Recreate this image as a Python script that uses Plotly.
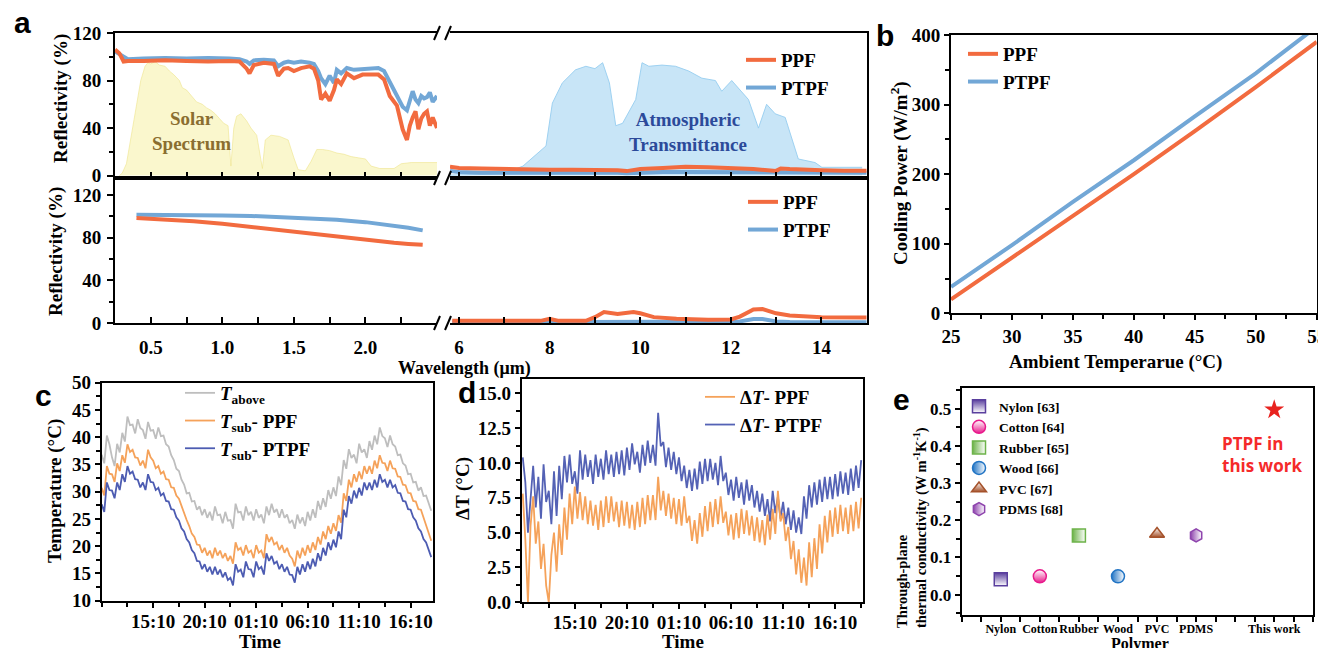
import plotly.graph_objects as go

W, H = 1326, 648
OFF = 8  # the page body adds this offset, compensate for it
SERIF = "Liberation Serif"
SANS = "Liberation Sans"

# ---------------- data: panel a ----------------
WL_VIS = [0.25, 0.28, 0.31, 0.34, 0.45, 0.6, 0.75, 0.9, 1.05, 1.12, 1.17, 1.19, 1.22, 1.29, 1.36, 1.39,
          1.43, 1.46, 1.50, 1.55, 1.61, 1.64, 1.67, 1.69, 1.72, 1.75, 1.78, 1.80, 1.83, 1.87, 1.92, 1.98,
          2.04, 2.09, 2.13, 2.17, 2.22, 2.26, 2.29, 2.31, 2.33, 2.35, 2.37, 2.39, 2.41, 2.43, 2.45, 2.47, 2.50]
PTPF_VIS_TOP = [104.5, 102, 100, 98, 98.5, 99, 98.5, 99, 98.5, 98, 96, 94, 97, 97.5, 97, 92,
                95, 96, 95, 96, 95, 94, 88, 82, 77, 84, 78, 89, 86, 90.5, 89, 89.5,
                89.5, 90.5, 88, 79, 67, 58, 55, 63, 71, 64, 61, 67, 65, 66, 70, 62, 67]
PPF_VIS_TOP = [106, 103, 96, 96.5, 96.5, 97, 96.5, 96, 96.5, 96, 90, 86, 93, 95, 94, 84,
               90, 90.5, 88, 90.5, 92, 90, 80, 64, 69, 63, 72, 81, 77, 86, 82, 85,
               85, 85, 81, 67, 59, 39, 30, 42, 49, 54, 39, 48, 52, 54, 42, 49, 40]

WL_SOLAR = [0.28, 0.30, 0.33, 0.36, 0.40, 0.43, 0.46, 0.48, 0.50, 0.53, 0.56, 0.60, 0.63, 0.66, 0.70,
            0.72, 0.75, 0.78, 0.82, 0.86, 0.89, 0.92, 0.95, 0.98, 1.01, 1.04, 1.06, 1.08, 1.10, 1.13,
            1.17, 1.20, 1.24, 1.26, 1.28, 1.30, 1.34, 1.40, 1.46, 1.50, 1.53, 1.58, 1.62, 1.66, 1.70,
            1.75, 1.80, 1.85, 1.90, 1.95, 2.00, 2.04, 2.10, 2.20, 2.25, 2.32, 2.40, 2.50]
SOLAR = [0, 2, 10, 30, 60, 80, 92, 95, 94, 96, 93, 92, 88, 85, 80,
         74, 72, 68, 62, 60, 57, 55, 52, 48, 44, 42, 8, 40, 50, 52,
         46, 40, 34, 20, 6, 30, 34, 33, 30, 15, 5, 4, 12, 22, 22,
         21, 19, 18, 16, 15, 14, 8, 6, 6, 10, 11, 11, 11]

WL_IR = [5.8, 6.0, 6.5, 7.0, 7.5, 8.0, 8.5, 9.0, 9.5, 9.7, 10.0, 10.5, 11.0, 11.5, 12.0, 12.5,
         13.0, 13.1, 13.3, 13.5, 14.0, 14.5, 15.0]
PPF_IR_TOP = [7.5, 6.5, 6, 5.5, 5.5, 5, 5, 5, 4.5, 3.8, 5.5, 6.5, 7.5, 7, 6.5, 5.5,
              4, 6, 5.5, 5, 4.5, 4, 4]
PTPF_IR_TOP = [4, 3, 2.5, 2.5, 2.5, 2.5, 2.5, 3, 2.5, 2, 2.5, 3, 3, 3, 3, 3,
               2.5, 3, 3, 2.5, 2.5, 2.5, 2.5]

WL_ATM = [5.8, 6.5, 7.0, 7.41, 7.92, 8.06, 8.28, 8.57, 8.80, 9.0, 9.17, 9.32, 9.46, 9.61, 9.90, 10.04,
          10.19, 10.48, 10.78, 11.07, 11.36, 11.66, 11.80, 12.02, 12.39, 12.61, 12.79, 12.98, 13.20,
          13.49, 13.86, 14.01, 14.9]
ATM = [0.5, 1, 2, 8, 25, 61, 78, 89, 92, 90, 95, 78, 42, 44, 64, 95,
       92, 93, 92, 88, 82, 80, 71, 80, 64, 40, 60, 52, 49,
       14, 11, 7, 7]

WL_VIS_B = [0.4, 0.6, 0.8, 1.0, 1.2, 1.4, 1.6, 1.8, 2.0, 2.2, 2.3, 2.4]
PTPF_VIS_B = [101.5, 101.5, 101.3, 100.9, 100.4, 99.5, 98.5, 96.9, 94.6, 91.6, 89.4, 86.9]
PPF_VIS_B = [98.5, 97.3, 95.5, 93.0, 90.0, 86.4, 83.7, 81.1, 78.1, 75.3, 74.2, 73.3]

WL_IR_B = [5.85, 7.0, 7.8, 8.0, 8.2, 8.8, 9.0, 9.2, 9.5, 9.85, 10.0, 10.3, 10.8, 11.5, 12.0, 12.2,
           12.5, 12.7, 13.0, 13.3, 14.0, 15.0]
PPF_IR_B = [2.1, 2.1, 2.0, 4.0, 2.0, 2.0, 5.5, 10.3, 8.5, 10.3, 9.1, 5.5, 4.0, 3.0, 3.3, 6.0,
            12.6, 13.1, 9.1, 7.1, 5.5, 5.1]
PTPF_IR_B = [0.6, 0.6, 0.6, 0.8, 0.6, 0.6, 0.8, 1.0, 1.0, 1.0, 0.9, 0.8, 0.7, 0.6, 0.7, 1.5,
             3.8, 3.8, 1.5, 1.0, 0.8, 0.7]

WL_TICKS_VIS = [0.5, 1.0, 1.5, 2.0]

# ---------------- data: panel b ----------------
T_AMB = [25, 30, 35, 40, 45, 50, 55]
COOL_PPF = [20, 80, 140, 200, 262, 325, 390]
COOL_PTPF = [38, 98, 160, 220, 283, 345, 412]

# ---------------- data: panel c (sampled every 0.25 h from 10:10) ----------------
HOURS_C = [i / 4 for i in range(129)]
T_ABOVE = [36.8, 35.2, 40.3, 38.7, 36.3, 34.7, 38.8, 37.2, 40.8, 39.2, 43.8, 42.2, 42.3, 40.7, 43.3, 41.7,
           41.3, 39.7, 42.8, 41.2, 41.3, 39.7, 41.8, 40.2, 40.3, 38.7, 38.3, 36.7, 35.8, 34.2, 33.8, 32.2,
           31.3, 29.7, 29.8, 28.2, 28.3, 26.7, 27.3, 25.7, 26.8, 25.2, 26.3, 24.7, 27.3, 25.7, 25.8, 24.2,
           26.3, 24.7, 24.8, 23.2, 27.8, 26.2, 26.3, 24.7, 27.3, 25.7, 26.3, 24.7, 26.8, 25.2, 25.8, 24.2,
           27.3, 25.7, 27.8, 26.2, 26.8, 25.2, 26.8, 25.2, 25.8, 24.2, 24.8, 23.2, 25.8, 24.2, 25.3, 23.7,
           26.3, 24.7, 26.8, 25.2, 28.3, 26.7, 28.8, 27.2, 30.3, 28.7, 30.8, 29.2, 32.8, 31.2, 35.8, 34.2,
           37.8, 36.2, 36.8, 35.2, 38.8, 37.2, 37.8, 36.2, 39.3, 37.7, 40.3, 38.7, 41.8, 40.2, 39.8, 38.2,
           40.3, 38.7, 38.3, 36.7, 36.8, 35.2, 34.8, 33.2, 33.3, 31.7, 31.8, 30.2, 30.8, 29.2, 29.3, 27.7,
           26.5]
T_SUB_PPF = [30.7, 29.3, 34.7, 33.3, 33.2, 31.8, 35.2, 33.8, 36.7, 35.3, 38.7, 37.3, 37.7, 36.3, 36.2, 34.8,
             35.7, 34.3, 37.7, 36.3, 35.7, 34.3, 34.7, 33.3, 33.7, 32.3, 32.2, 30.8, 30.7, 29.3, 28.7, 27.3,
             26.2, 24.8, 23.7, 22.3, 21.7, 20.3, 20.2, 18.8, 19.7, 18.3, 19.2, 17.8, 19.7, 18.3, 19.2, 17.8,
             18.7, 17.3, 18.2, 16.8, 20.7, 19.3, 19.7, 18.3, 20.2, 18.8, 19.2, 17.8, 20.2, 18.8, 19.2, 17.8,
             22.2, 20.8, 21.7, 20.3, 20.7, 19.3, 20.2, 18.8, 19.7, 18.3, 17.7, 16.3, 19.2, 17.8, 19.7, 18.3,
             20.2, 18.8, 20.7, 19.3, 21.7, 20.3, 22.7, 21.3, 23.7, 22.3, 24.2, 22.8, 25.7, 24.3, 29.7, 28.3,
             32.2, 30.8, 33.2, 31.8, 33.7, 32.3, 34.7, 33.3, 34.7, 33.3, 35.7, 34.3, 36.7, 35.3, 35.2, 33.8,
             35.7, 34.3, 34.2, 32.8, 32.7, 31.3, 31.2, 29.8, 29.7, 28.3, 28.2, 26.8, 26.7, 25.3, 24.2, 22.8,
             21.0]
T_SUB_PTPF = [27.7, 26.3, 31.7, 30.3, 30.2, 28.8, 31.7, 30.3, 33.2, 31.8, 34.7, 33.3, 33.7, 32.3, 32.2, 30.8,
              31.7, 30.3, 33.2, 31.8, 31.7, 30.3, 30.7, 29.3, 29.7, 28.3, 28.2, 26.8, 26.7, 25.3, 24.7, 23.3,
              22.7, 21.3, 20.7, 19.3, 18.7, 17.3, 17.2, 15.8, 16.7, 15.3, 16.2, 14.8, 16.2, 14.8, 15.7, 14.3,
              15.2, 13.8, 14.2, 12.8, 16.7, 15.3, 15.7, 14.3, 17.2, 15.8, 15.7, 14.3, 17.2, 15.8, 16.2, 14.8,
              18.7, 17.3, 18.2, 16.8, 17.2, 15.8, 16.7, 15.3, 16.2, 14.8, 14.7, 13.3, 16.2, 14.8, 16.7, 15.3,
              17.2, 15.8, 17.7, 16.3, 18.7, 17.3, 19.7, 18.3, 20.7, 19.3, 21.2, 19.8, 22.7, 21.3, 26.7, 25.3,
              29.2, 27.8, 30.2, 28.8, 30.7, 29.3, 31.7, 30.3, 31.7, 30.3, 32.2, 30.8, 33.2, 31.8, 32.2, 30.8,
              32.2, 30.8, 31.2, 29.8, 29.7, 28.3, 28.2, 26.8, 26.7, 25.3, 24.7, 23.3, 22.7, 21.3, 20.7, 19.3,
              18.0]

# ---------------- data: panel d (sampled every 0.25 h from 10:10) ----------------
HOURS_D = [i / 4 for i in range(131)]
DT_PPF = [7.8, 4.5, 0.0, 5.5, 7.6, 4.2, 5.8, 2.4, 4.2, 1.2, 0.0, 3.4, 5.0, 2.2, 5.6, 3.4,
          6.8, 4.5, 7.8, 5.6, 8.3, 6.0, 7.9, 5.9, 7.6, 5.6, 7.3, 5.5, 7.0, 5.2, 7.3, 5.4,
          7.6, 5.7, 7.6, 5.8, 7.2, 5.4, 7.3, 5.5, 7.2, 5.3, 7.0, 5.2, 7.2, 5.4, 7.5, 5.6,
          7.7, 5.9, 7.7, 5.9, 9.0, 6.6, 8.0, 6.2, 7.8, 6.0, 7.5, 5.6, 7.4, 5.5, 7.6, 5.7,
          6.2, 4.4, 5.9, 4.2, 6.4, 4.7, 6.9, 5.1, 7.2, 5.4, 7.4, 5.6, 7.6, 5.7, 6.5, 4.8,
          6.3, 4.5, 6.4, 4.6, 6.7, 4.9, 6.6, 4.8, 6.2, 4.4, 6.1, 4.3, 5.9, 4.1, 6.3, 4.5,
          6.7, 4.9, 8.0, 5.8, 6.4, 4.4, 5.4, 3.1, 4.4, 2.0, 3.8, 1.4, 3.2, 1.2, 4.3, 1.8,
          4.6, 2.4, 5.6, 3.5, 6.2, 4.3, 6.6, 4.7, 6.8, 4.9, 7.0, 5.1, 6.8, 4.9, 7.0, 5.1,
          7.2, 5.3, 7.5]
DT_PTPF = [10.4, 8.6, 5.0, 7.5, 9.8, 6.8, 9.0, 6.0, 9.9, 7.2, 8.0, 5.6, 9.4, 6.2, 9.8, 7.4,
           10.5, 8.6, 10.6, 8.5, 9.4, 7.8, 10.9, 8.8, 10.6, 9.0, 10.2, 8.5, 10.6, 9.0, 10.3, 8.8,
           10.9, 9.2, 10.6, 9.0, 10.8, 9.2, 10.9, 9.1, 11.1, 9.5, 11.4, 9.9, 10.8, 9.3, 11.3, 9.8,
           11.6, 10.0, 11.3, 9.8, 13.6, 11.2, 11.5, 9.7, 11.1, 9.5, 10.8, 9.2, 10.4, 8.7, 9.8, 8.2,
           9.5, 8.0, 9.6, 8.1, 10.1, 8.5, 10.3, 8.7, 10.3, 8.8, 10.0, 8.4, 10.5, 8.7, 9.3, 7.7,
           8.8, 7.3, 9.0, 7.5, 8.6, 7.0, 8.8, 7.3, 8.4, 6.8, 8.0, 6.5, 7.8, 6.2, 7.4, 5.8,
           8.0, 6.4, 7.6, 6.0, 7.2, 5.6, 6.8, 5.2, 6.6, 5.0, 6.1, 4.9, 7.6, 6.0, 8.4, 6.8,
           8.6, 7.0, 8.8, 7.2, 9.0, 7.4, 9.0, 7.4, 9.2, 7.6, 9.4, 7.8, 9.3, 7.7, 9.6, 8.0,
           9.8, 8.2, 10.2]

TIME_TICKS = [5, 10, 15, 20, 25, 30]
TIME_LABELS = ["15:10", "20:10", "01:10", "06:10", "11:10", "16:10"]

# ---------------- data: panel e ----------------
POLYMERS = ["Nylon", "Cotton", "Rubber", "Wood", "PVC", "PDMS", "This work"]
POLY_POS = [1, 2, 3, 4, 5, 6, 8]
REFS = ["[63]", "[64]", "[65]", "[66]", "[67]", "[68]"]
CONDUCTIVITY = [0.041, 0.049, 0.159, 0.049, 0.163, 0.159, 0.497]

# ---------------- styling ----------------
C_PPF = "#F26B3F"
C_PTPF = "#72A7D6"
C_GRAY = "#BEBEBE"
C_ORANGE = "#F5A25A"
C_BLUE = "#4D5CB2"


def fx(p):
    return (p - OFF) / W


def fy(p):
    return 1 - (p - OFF) / H


fig = go.Figure()

# panel a, top
fig.add_trace(go.Scatter(x=WL_SOLAR, y=SOLAR, xaxis="x", yaxis="y", mode="lines", fill="tozeroy",
                         line=dict(color="rgba(238,228,140,0.6)", width=1),
                         fillcolor="rgba(247,242,178,0.65)", showlegend=False, hoverinfo="skip"))
fig.add_trace(go.Scatter(x=WL_VIS, y=PTPF_VIS_TOP, xaxis="x", yaxis="y", mode="lines",
                         line=dict(color=C_PTPF, width=4), showlegend=False))
fig.add_trace(go.Scatter(x=WL_VIS, y=PPF_VIS_TOP, xaxis="x", yaxis="y", mode="lines",
                         line=dict(color=C_PPF, width=4), showlegend=False))
fig.add_trace(go.Scatter(x=WL_ATM, y=ATM, xaxis="x2", yaxis="y2", mode="lines", fill="tozeroy",
                         line=dict(color="rgba(150,205,240,0.9)", width=1),
                         fillcolor="rgba(190,225,246,0.85)", showlegend=False, hoverinfo="skip"))
fig.add_trace(go.Scatter(x=WL_IR, y=PTPF_IR_TOP, xaxis="x2", yaxis="y2", mode="lines", name="PTPF",
                         line=dict(color=C_PTPF, width=4), legend="legend", legendrank=2))
fig.add_trace(go.Scatter(x=WL_IR, y=PPF_IR_TOP, xaxis="x2", yaxis="y2", mode="lines", name="PPF",
                         line=dict(color=C_PPF, width=4), legend="legend", legendrank=1))

# panel a, bottom
fig.add_trace(go.Scatter(x=WL_VIS_B, y=PTPF_VIS_B, xaxis="x3", yaxis="y3", mode="lines",
                         line=dict(color=C_PTPF, width=4), showlegend=False))
fig.add_trace(go.Scatter(x=WL_VIS_B, y=PPF_VIS_B, xaxis="x3", yaxis="y3", mode="lines",
                         line=dict(color=C_PPF, width=4), showlegend=False))
fig.add_trace(go.Scatter(x=WL_IR_B, y=PTPF_IR_B, xaxis="x4", yaxis="y4", mode="lines", name="PTPF",
                         line=dict(color=C_PTPF, width=4), legend="legend2", legendrank=2))
fig.add_trace(go.Scatter(x=WL_IR_B, y=PPF_IR_B, xaxis="x4", yaxis="y4", mode="lines", name="PPF",
                         line=dict(color=C_PPF, width=4), legend="legend2", legendrank=1))

# panel b
fig.add_trace(go.Scatter(x=T_AMB, y=COOL_PPF, xaxis="x5", yaxis="y5", mode="lines", name="PPF",
                         line=dict(color=C_PPF, width=4), legend="legend3"))
fig.add_trace(go.Scatter(x=T_AMB, y=COOL_PTPF, xaxis="x5", yaxis="y5", mode="lines", name="PTPF",
                         line=dict(color=C_PTPF, width=4), legend="legend3"))

# panel c
fig.add_trace(go.Scatter(x=HOURS_C, y=T_ABOVE, xaxis="x6", yaxis="y6", mode="lines",
                         name="<i>T</i><sub>above</sub>", line=dict(color=C_GRAY, width=1.8),
                         legend="legend4"))
fig.add_trace(go.Scatter(x=HOURS_C, y=T_SUB_PPF, xaxis="x6", yaxis="y6", mode="lines",
                         name="<i>T</i><sub>sub</sub>- PPF", line=dict(color=C_ORANGE, width=1.8),
                         legend="legend4"))
fig.add_trace(go.Scatter(x=HOURS_C, y=T_SUB_PTPF, xaxis="x6", yaxis="y6", mode="lines",
                         name="<i>T</i><sub>sub</sub>- PTPF", line=dict(color=C_BLUE, width=1.8),
                         legend="legend4"))

# panel d
fig.add_trace(go.Scatter(x=HOURS_D, y=DT_PTPF, xaxis="x7", yaxis="y7", mode="lines",
                         name="Δ<i>T</i>- PTPF", line=dict(color="#5462B5", width=1.8),
                         legend="legend5", legendrank=2))
fig.add_trace(go.Scatter(x=HOURS_D, y=DT_PPF, xaxis="x7", yaxis="y7", mode="lines",
                         name="Δ<i>T</i>- PPF", line=dict(color=C_ORANGE, width=1.8),
                         legend="legend5", legendrank=1))

# panel e
E_STYLE = [
    ("square", "#5A3F9E", "white", "vertical", "#5A3F9E"),
    ("circle", "white", "#E8198B", "vertical", "#E8198B"),
    ("square", "#6DB34A", "white", "horizontal", "#6DB34A"),
    ("circle", "#2174C4", "white", "horizontal", "#2174C4"),
    ("triangle-up", "white", "#A5522B", "vertical", "#A5522B"),
    ("hexagon", "#8E44AD", "white", "horizontal", "#8E44AD"),
]
for i, (sym, col, gcol, gtype, lcol) in enumerate(E_STYLE):
    fig.add_trace(go.Scatter(
        x=[POLY_POS[i]], y=[CONDUCTIVITY[i]], xaxis="x8", yaxis="y8", mode="markers",
        name=f"{POLYMERS[i]} {REFS[i]}", legend="legend6",
        marker=dict(symbol=sym, size=13, color=col, gradient=dict(type=gtype, color=gcol),
                    line=dict(color=lcol, width=1.5))))
fig.add_trace(go.Scatter(x=[POLY_POS[6]], y=[CONDUCTIVITY[6]], xaxis="x8", yaxis="y8", mode="markers",
                         marker=dict(symbol="star", size=15, color="#E8231F"), showlegend=False))

# ---------------- axes ----------------
TF = dict(family=SERIF, size=19, color="black", weight="bold")


def ax(**kw):
    d = dict(showline=True, linecolor="black", linewidth=2, showgrid=False, zeroline=False,
             tickcolor="black", tickwidth=2, ticklen=6, tickfont=TF, automargin=False)
    d.update(kw)
    return d


def mn(dtick, tick0=0, ticks="outside", ticklen=4):
    return dict(ticks=ticks, dtick=dtick, tick0=tick0, ticklen=ticklen, tickwidth=2, tickcolor="black")


XA_L = [fx(115), fx(437)]
XA_R = [fx(450), fx(866.7)]
YA_T = [fy(178), fy(33)]
YA_B = [fy(323), fy(178)]

layout_axes = dict(
    xaxis=ax(domain=XA_L, anchor="y", range=[0.25, 2.5], mirror=True, ticks="inside", tick0=0.5, dtick=0.5,
             showticklabels=False, minor=mn(0.25, 0.25, "inside", 6)),
    yaxis=ax(domain=YA_T, anchor="x", range=[-2, 120], ticks="outside", tick0=0, dtick=40,
             minor=mn(20), ticklabelstandoff=2),
    xaxis2=ax(domain=XA_R, anchor="y2", range=[5.8, 15], mirror=True, ticks="inside", tick0=6, dtick=1,
              showticklabels=False),
    yaxis2=ax(domain=YA_T, anchor="x2", range=[-2, 120], side="right", ticks="", showticklabels=False),
    xaxis3=ax(domain=XA_L, anchor="y3", range=[0.25, 2.5], mirror=True, ticks="inside",
              tickmode="array", tickvals=WL_TICKS_VIS, ticktext=["0.5", "1.0", "1.5", "2.0"],
              minor=mn(0.25, 0.25, "inside", 6), ticklabelstandoff=6),
    yaxis3=ax(domain=YA_B, anchor="x3", range=[0, 136], ticks="outside", tick0=0, dtick=40,
              minor=mn(20), ticklabelstandoff=2),
    xaxis4=ax(domain=XA_R, anchor="y4", range=[5.8, 15], mirror=True, ticks="inside", tick0=6, dtick=2,
              minor=mn(1, 6, "inside", 6), ticklabelstandoff=6),
    yaxis4=ax(domain=YA_B, anchor="x4", range=[0, 136], side="right", ticks="", showticklabels=False),
    xaxis5=ax(domain=[fx(951), fx(1316.7)], anchor="y5", range=[25, 55], mirror=True, ticks="outside",
              tick0=25, dtick=5, ticklen=5, minor=mn(2.5, 25)),
    yaxis5=ax(domain=[fy(313.3), fy(35)], anchor="x5", range=[0, 400], mirror=True, ticks="outside",
              tick0=0, dtick=100, ticklen=5, minor=mn(50)),
    xaxis6=ax(domain=[fx(101.7), fx(433.3)], anchor="y6", range=[0, 32.2], mirror=True, ticks="outside",
              tickmode="array", tickvals=TIME_TICKS, ticktext=TIME_LABELS, ticklen=5, minor=mn(2.5, 0),
              ticklabelstandoff=-3),
    yaxis6=ax(domain=[fy(600.7), fy(382.7)], anchor="x6", range=[10, 50], mirror=True, ticks="outside",
              tick0=10, dtick=5, ticklen=5, minor=mn(2.5, 10)),
    xaxis7=ax(domain=[fx(521.7), fx(863.3)], anchor="y7", range=[-0.1, 32.7], mirror=True, ticks="outside",
              tickmode="array", tickvals=TIME_TICKS, ticktext=TIME_LABELS, ticklen=5, minor=mn(2.5, 0),
              ticklabelstandoff=-3),
    yaxis7=ax(domain=[fy(602.3), fy(379.3)], anchor="x7", range=[0, 16], mirror=True, ticks="outside",
              tick0=0, dtick=2.5, tickformat=".1f", ticklen=5, minor=mn(1.25, 0)),
    xaxis8=ax(domain=[fx(961.7), fx(1313.3)], anchor="y8", range=[0, 9], mirror=True, ticks="outside",
              tickmode="array", tickvals=POLY_POS, ticktext=POLYMERS, ticklen=5, tickangle=0,
              tickfont=dict(family=SERIF, size=12, color="black", weight="bold"),
              minor=mn(0.5, 0, "outside", 5), ticklabelstandoff=-3),
    yaxis8=ax(domain=[fy(615), fy(388.3)], anchor="x8", range=[-0.055, 0.555], mirror=True, ticks="outside",
              tick0=0, dtick=0.1, tickformat=".1f", ticklen=5, minor=mn(0.05, 0),
              tickfont=dict(family=SERIF, size=17, color="black", weight="bold")),
)


def lg(x, y, size=19, gap=0):
    return dict(x=fx(x), y=fy(y), xanchor="left", yanchor="top", bgcolor="rgba(0,0,0,0)",
                font=dict(family=SERIF, size=size, color="black", weight="bold"),
                tracegroupgap=gap, traceorder="normal")


fig.update_layout(
    width=W, height=H, autosize=False, margin=dict(l=0, r=0, t=0, b=0, pad=0, autoexpand=False),
    paper_bgcolor="white", plot_bgcolor="white", showlegend=True,
    legend=lg(741, 41),
    legend2=lg(743, 183),
    legend3=lg(963, 35),
    legend4=lg(180, 374),
    legend5=lg(700, 378),
    legend6=lg(959, 391, size=13.5),
    **layout_axes,
)

# ---------------- annotations ----------------
ann = []


def txt(x, y, s, size=19, color="black", family=SERIF, angle=0, bold=True, xanchor="center",
        align="center", yanchor="middle"):
    ann.append(dict(x=fx(x), y=fy(y), xref="paper", yref="paper", text=s, showarrow=False,
                    textangle=angle, xanchor=xanchor, yanchor=yanchor, align=align,
                    font=dict(family=family, size=size, color=color, weight="bold" if bold else "normal")))


txt(22, 23, "a", 30, family=SANS)
txt(885, 36, "b", 30, family=SANS)
txt(43, 395, "c", 30, family=SANS)
txt(467, 392, "d", 30, family=SANS)
txt(901, 399, "e", 30, family=SANS)

txt(61, 98, "Reflectivity (%)", angle=-90)
txt(56, 252, "Reflectivity (%)", angle=-90)
txt(464, 368, "Wavelength (μm)", 18)
txt(191, 131, "Solar<br>Spectrum", 19, color="#8A6E30")
txt(688, 132, "Atmospheric<br>Transmittance", 19, color="#2C4A9A")

txt(899, 173, "Cooling Power (W/m<sup>2</sup>)", angle=-90)
txt(1115, 362, "Ambient Temperarue (°C)")

txt(55, 491, "Temperature (°C)", angle=-90)
txt(260, 641, "Time")
txt(463, 489, "ΔT (°C)", angle=-90)
txt(683, 641, "Time")

txt(912, 528, "Through-plane<br>thermal conductivity (W m<sup>-1</sup>K<sup>-1</sup>)", 14.5, angle=-90,
    align="left")
txt(1140, 644, "Polymer", 16)
txt(1220, 455, "PTPF in<br>this work", 17, color="#F52A2A", family="Open Sans", xanchor="left", align="left")

# break marks on panel a
shapes = []
for yb in (33, 178, 323):
    for xb in (437, 448):
        shapes.append(dict(type="line", xref="paper", yref="paper",
                           x0=fx(xb - 3), y0=fy(yb + 7), x1=fx(xb + 3), y1=fy(yb - 7),
                           line=dict(color="black", width=2)))

fig.update_layout(annotations=ann, shapes=shapes)
fig.write_html("out.html")
